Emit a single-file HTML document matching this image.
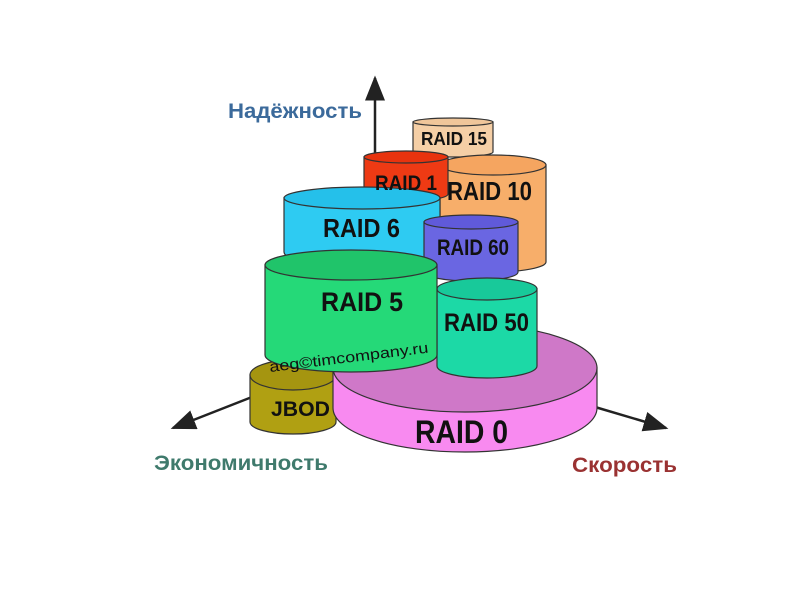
<!DOCTYPE html>
<html><head><meta charset="utf-8"><style>
body{margin:0;background:#fff;width:800px;height:600px;overflow:hidden}
text{font-family:"Liberation Sans",sans-serif;font-weight:bold}
</style></head><body>
<svg width="800" height="600" xmlns="http://www.w3.org/2000/svg">
<defs>
<marker id="ah" markerWidth="10" markerHeight="8" refX="9" refY="4" orient="auto"><path d="M0,0L10,4L0,8z" fill="#222"/></marker>
</defs>
<g stroke="#222" stroke-width="2.5" fill="none" marker-end="url(#ah)">
<line x1="375" y1="155" x2="375" y2="78"/>
<line x1="252" y1="397" x2="173" y2="428"/>
<line x1="595" y1="407" x2="666" y2="428"/>
</g>
<text x="228" y="118" font-size="21" fill="#3b6a9b" textLength="134" lengthAdjust="spacingAndGlyphs">Надёжность</text>
<text x="154" y="470" font-size="21" fill="#3f7a6c" textLength="174" lengthAdjust="spacingAndGlyphs">Экономичность</text>
<text x="572" y="472" font-size="21" fill="#9a3232" textLength="105" lengthAdjust="spacingAndGlyphs">Скорость</text>
<g stroke="#333" stroke-width="1.2">
<path d="M413,122 V152 A40,5 0 0 0 493,152 V122 Z" fill="#f5cfa6"/>
<ellipse cx="453" cy="122" rx="40" ry="4" fill="#f0c69a"/>
<path d="M440,165 V262 A53,10 0 0 0 546,262 V165 Z" fill="#f7ae6a"/>
<ellipse cx="493" cy="165" rx="53" ry="10" fill="#f5a560"/>
<path d="M364,157 V194 A42,7 0 0 0 448,194 V157 Z" fill="#ee3a14"/>
<ellipse cx="406" cy="157" rx="42" ry="6" fill="#e8330e"/>
<path d="M284,198 V252 A78,15 0 0 0 440,252 V198 Z" fill="#2ecbf2"/>
<ellipse cx="362" cy="198" rx="78" ry="11" fill="#25c0ea"/>
<path d="M424,222 V272 A47,9 0 0 0 518,272 V222 Z" fill="#6a66e2"/>
<ellipse cx="471" cy="222" rx="47" ry="7" fill="#605ada"/>
<path d="M250,375 V422 A43,12 0 0 0 336,422 V375 Z" fill="#b0a012"/>
<ellipse cx="293" cy="375" rx="43" ry="15" fill="#a59510"/>
<path d="M333,368 V408 A132,44 0 0 0 597,408 V368 Z" fill="#f88af0"/>
<ellipse cx="465" cy="368" rx="132" ry="44" fill="#cf78c8"/>
<path d="M437,289 V366 A50,12 0 0 0 537,366 V289 Z" fill="#1cd9a6"/>
<ellipse cx="487" cy="289" rx="50" ry="11" fill="#18c99a"/>
<path d="M265,265 V355 A86,17 0 0 0 437,355 V265 Z" fill="#25d978"/>
<ellipse cx="351" cy="265" rx="86" ry="15" fill="#20c46a"/>
</g>
<g fill="#111">
<text x="421" y="145" font-size="18" textLength="66" lengthAdjust="spacingAndGlyphs">RAID 15</text>
<text x="375" y="190" font-size="21" textLength="62" lengthAdjust="spacingAndGlyphs">RAID 1</text>
<text x="447" y="200" font-size="26" textLength="85" lengthAdjust="spacingAndGlyphs">RAID 10</text>
<text x="323" y="237" font-size="26" textLength="77" lengthAdjust="spacingAndGlyphs">RAID 6</text>
<text x="437" y="255" font-size="22" textLength="72" lengthAdjust="spacingAndGlyphs">RAID 60</text>
<text x="321" y="311" font-size="27" textLength="82" lengthAdjust="spacingAndGlyphs">RAID 5</text>
<text x="444" y="331" font-size="25" textLength="85" lengthAdjust="spacingAndGlyphs">RAID 50</text>
<text x="271" y="416" font-size="21" textLength="59" lengthAdjust="spacingAndGlyphs">JBOD</text>
<text x="415" y="443" font-size="32" textLength="93" lengthAdjust="spacingAndGlyphs">RAID 0</text>
<text x="270" y="372" font-size="15" style="font-weight:normal" textLength="160" lengthAdjust="spacingAndGlyphs" transform="rotate(-7 270 372)">aeg©timcompany.ru</text>
</g>
</svg>
</body></html>
